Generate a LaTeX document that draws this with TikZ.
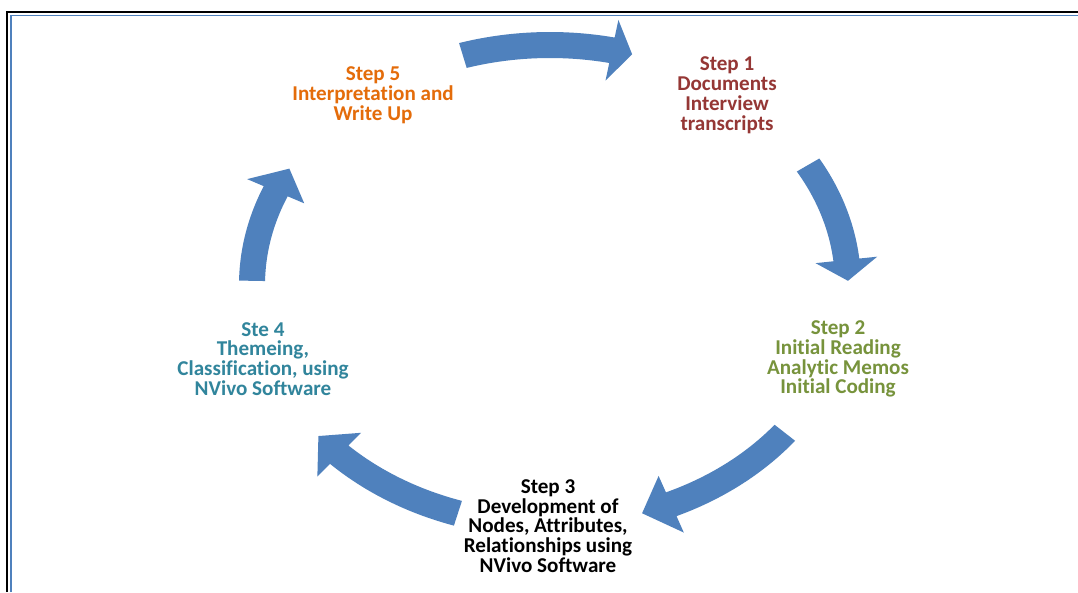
\documentclass[tikz,border=0pt]{standalone}
\usepackage{fontspec}
\setmainfont{Carlito}[Ligatures=NoCommon]
\usepackage{tikz}
\definecolor{arrowblue}{RGB}{79,129,189}
\definecolor{stepred}{RGB}{149,55,53}
\definecolor{steporange}{RGB}{228,108,10}
\definecolor{stepgreen}{RGB}{119,147,60}
\definecolor{stepteal}{RGB}{49,133,156}
\newcommand{\ringx}{550}
\newcommand{\ringy}{285}
\newcommand{\ringa}{298}
\newcommand{\ringb}{240}
\newcommand{\cyclearrow}[3]{%
  \fill[arrowblue] plot[domain=#1:#2,samples=40,variable=\t] ({\ringx+(\ringa+13)*cos(\t)},{\ringy+(\ringb+13)*sin(\t)})
    -- ({\ringx+(\ringa+31)*cos(#2)},{\ringy+(\ringb+31)*sin(#2)})
    -- ({\ringx+\ringa*cos(#3)},{\ringy+\ringb*sin(#3)})
    -- ({\ringx+(\ringa-31)*cos(#2)},{\ringy+(\ringb-31)*sin(#2)})
    -- plot[domain=#2:#1,samples=40,variable=\t] ({\ringx+(\ringa-13)*cos(\t)},{\ringy+(\ringb-13)*sin(\t)})
    -- cycle;}
\tikzset{steptext/.style={align=center,inner sep=0pt,font=\fontsize{15}{14.1}\selectfont\bfseries}}

\begin{document}
\begin{tikzpicture}[x=0.025cm,y=-0.025cm]
  \useasboundingbox (0,0) rectangle (1078,592);
  \fill[white] (0,0) rectangle (1078,592);
  \draw[line width=1.2pt] (7,592) -- (7,12) -- (1078,12);
  \draw[arrowblue,line width=1.2pt] (11,592) -- (11,15.5) -- (1078,15.5);
  \cyclearrow{-107}{-78}{-74}
  \cyclearrow{-30}{-6}{-1}
  \cyclearrow{38}{66}{72}
  \cyclearrow{108}{135}{141}
  \cyclearrow{181}{203}{209}
  \node[steptext,text=steporange] (step5) at (373,95) {Step 5\\Interpretation and\\Write Up};
  \node[steptext,text=stepred] (step1) at (727,95) {Step 1\\Documents\\Interview\\transcripts};
  \node[steptext,text=stepgreen] (step2) at (838,359) {Step 2\\Initial Reading\\Analytic Memos\\Initial Coding};
  \node[steptext,text=stepteal] (step4) at (263,359) {Ste 4\\Themeing,\\Classification, using\\NVivo Software};
  \node[steptext] (step3) at (548,526) {Step 3\\Development of\\Nodes, Attributes,\\Relationships using\\NVivo Software};
\end{tikzpicture}
\end{document}
